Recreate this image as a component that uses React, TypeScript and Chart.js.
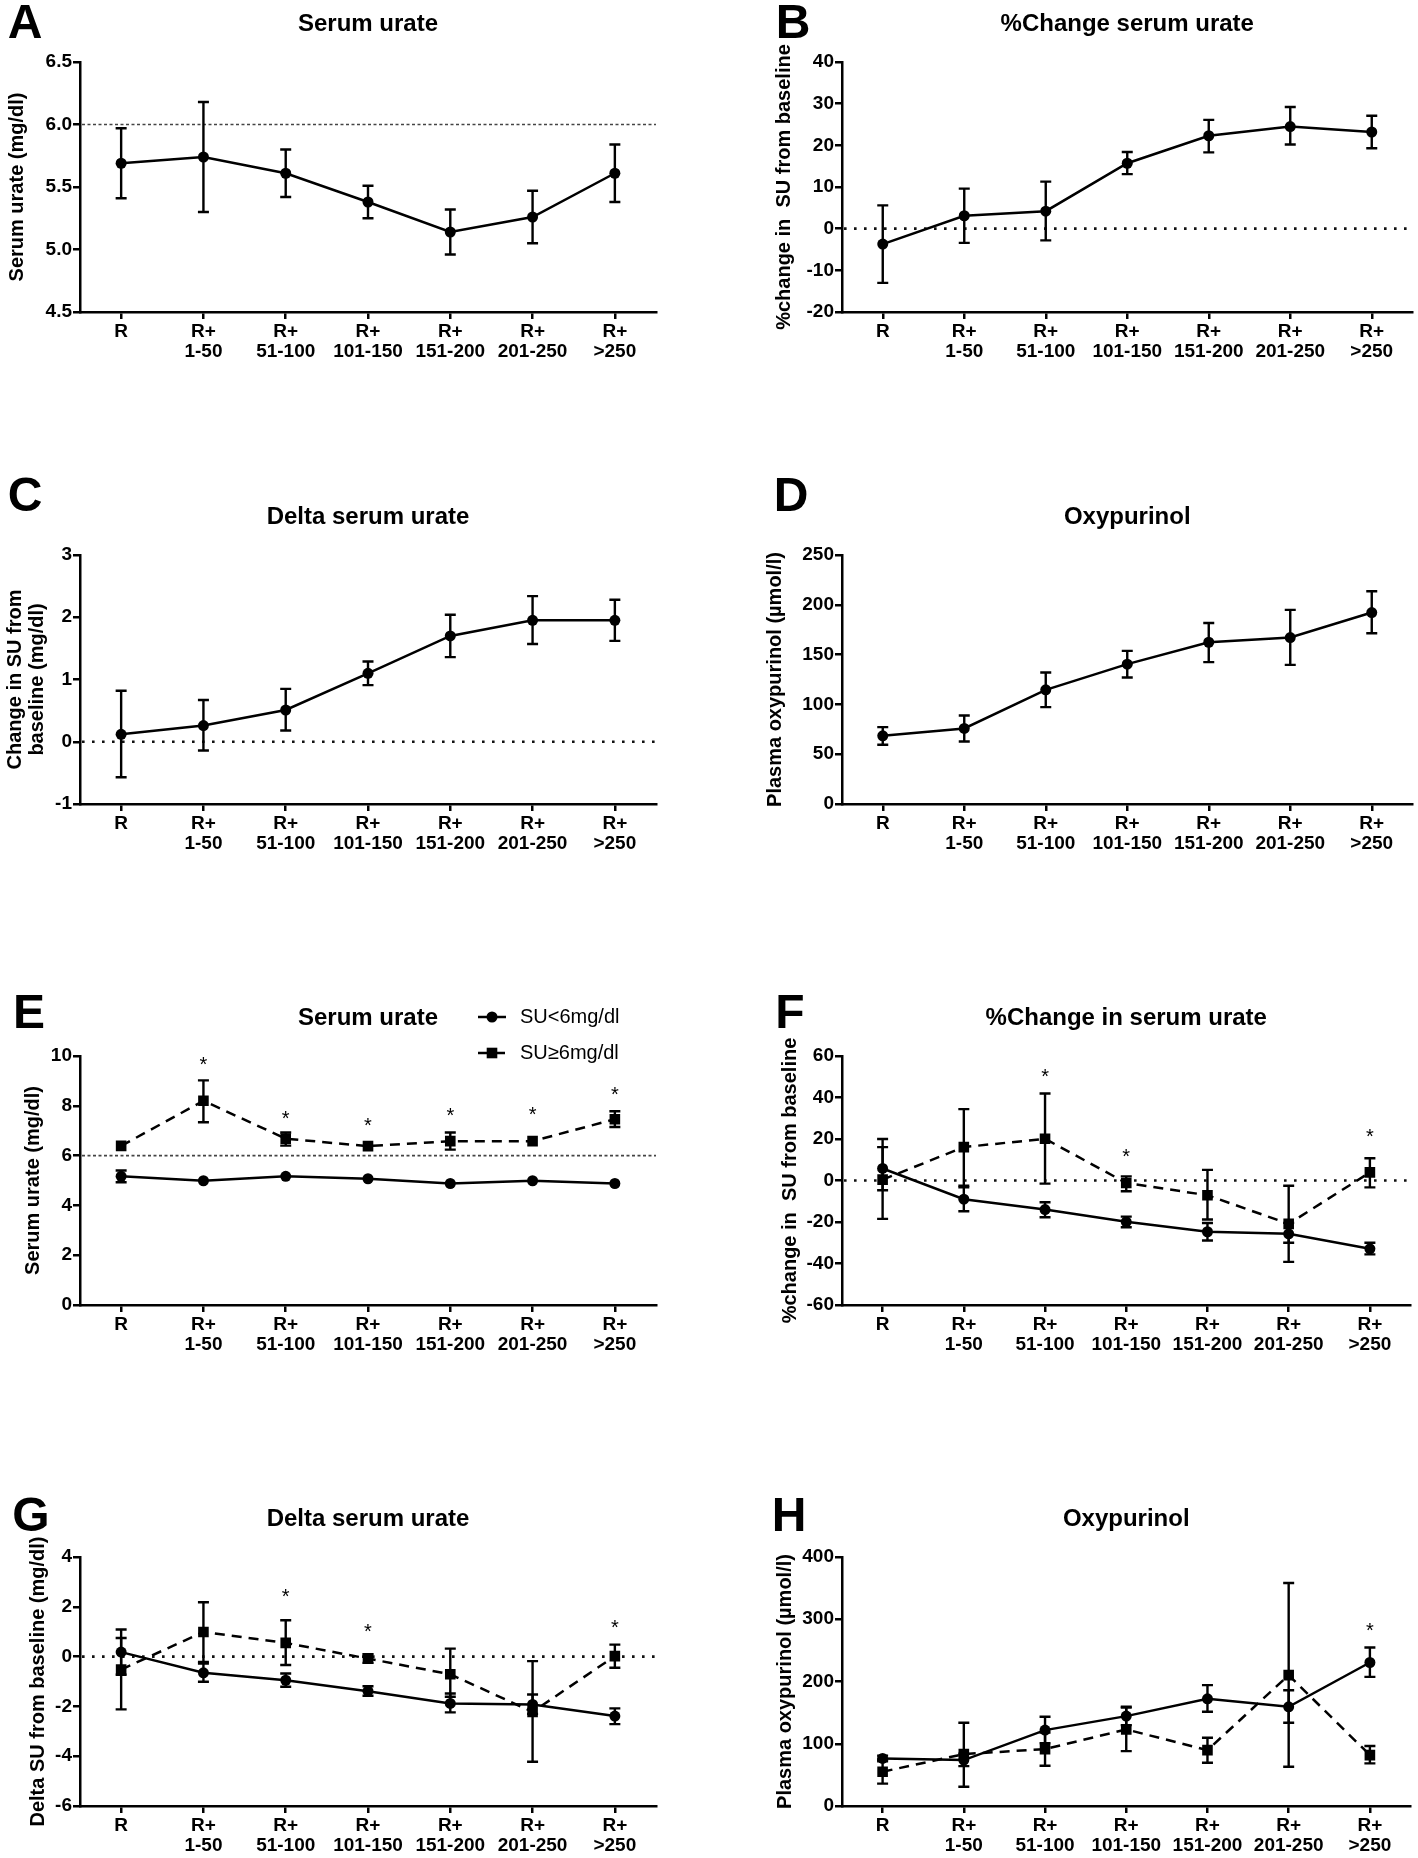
import React, { useEffect, useRef } from 'react';
import { Chart, registerables } from 'chart.js';

Chart.register(...registerables);

const FAM = '"Liberation Sans", Arial, Helvetica, sans-serif';

// ---------- data ----------
const categories: (string | string[])[] = [
  'R',
  ['R+', '1-50'],
  ['R+', '51-100'],
  ['R+', '101-150'],
  ['R+', '151-200'],
  ['R+', '201-250'],
  ['R+', '>250'],
];

const seriesLabels = ['SU<6mg/dl', 'SU\u22656mg/dl'];

// A: serum urate (all)
const aMean = [5.69, 5.74, 5.61, 5.38, 5.14, 5.26, 5.61];
const aLo = [5.41, 5.30, 5.42, 5.25, 4.96, 5.05, 5.38];
const aHi = [5.97, 6.18, 5.80, 5.51, 5.32, 5.47, 5.84];

// B: % change serum urate
const bMean = [-3.7, 3.1, 4.2, 15.7, 22.3, 24.5, 23.2];
const bLo = [-13.0, -3.4, -2.8, 13.1, 18.3, 20.2, 19.3];
const bHi = [5.6, 9.6, 11.3, 18.4, 26.1, 29.2, 27.1];

// C: delta serum urate
const cMean = [0.12, 0.26, 0.51, 1.10, 1.70, 1.95, 1.95];
const cLo = [-0.57, -0.14, 0.18, 0.91, 1.36, 1.57, 1.62];
const cHi = [0.82, 0.67, 0.85, 1.29, 2.04, 2.34, 2.28];

// D: oxypurinol
const dMean = [68.5, 75.9, 114.6, 140.4, 162.4, 167.1, 192.2];
const dLo = [59.5, 62.8, 97.3, 127.0, 142.4, 139.7, 171.5];
const dHi = [77.2, 88.9, 132.0, 153.7, 181.8, 194.9, 213.6];

// E: serum urate by group
const eLowMean = [5.17, 4.99, 5.17, 5.07, 4.88, 4.99, 4.88];
const eLowLo = [4.93, 4.99, 5.17, 5.07, 4.88, 4.99, 4.88];
const eLowHi = [5.40, 4.99, 5.17, 5.07, 4.88, 4.99, 4.88];
const eHighMean = [6.39, 8.20, 6.68, 6.38, 6.58, 6.58, 7.46];
const eHighLo = [6.39, 7.34, 6.40, 6.38, 6.24, 6.58, 7.15];
const eHighHi = [6.39, 9.02, 6.93, 6.38, 6.93, 6.58, 7.78];
const eStars: (number | null)[] = [null, 9.83, 7.69, 7.39, 7.78, 7.82, 8.62];

// F: % change by group
const fLowMean = [5.8, -9.0, -14.0, -19.9, -24.7, -25.7, -32.9];
const fLowLo = [-4.7, -14.8, -17.7, -22.5, -28.9, -30.0, -35.6];
const fLowHi = [20.0, -3.3, -10.5, -17.4, -20.5, -20.4, -30.0];
const fHighMean = [0.4, 16.1, 20.1, -1.2, -7.1, -20.9, 3.9];
const fHighLo = [-18.5, -2.5, -1.5, -5.2, -18.8, -39.2, -3.3];
const fHighHi = [16.1, 34.4, 41.9, 2.0, 5.1, -2.5, 10.7];
const fStars: (number | null)[] = [null, null, 52.5, 13.5, null, null, 23.6];

// G: delta by group
const gLowMean = [0.18, -0.65, -0.95, -1.39, -1.88, -1.92, -2.39];
const gLowLo = [-0.73, -1.01, -1.21, -1.57, -2.24, -2.30, -2.71];
const gLowHi = [1.09, -0.21, -0.68, -1.19, -1.48, -1.52, -2.08];
const gHighMean = [-0.52, 0.99, 0.55, -0.08, -0.71, -2.22, 0.02];
const gHighLo = [-2.12, -0.28, -0.34, -0.25, -1.61, -4.22, -0.45];
const gHighHi = [0.75, 2.18, 1.46, 0.10, 0.32, -0.18, 0.48];
const gStars: (number | null)[] = [null, null, 2.58, 1.17, null, null, 1.35];

// H: oxypurinol by group
const hLowMean = [76.5, 73.8, 121.9, 144.4, 172.2, 159.4, 230.5];
const hLowLo = [72.0, 64.0, 101.0, 130.0, 151.3, 133.7, 207.5];
const hLowHi = [81.0, 84.0, 143.3, 159.4, 194.1, 186.0, 254.5];
const hHighMean = [55.0, 83.4, 91.4, 123.0, 89.8, 210.2, 81.8];
const hHighLo = [36.0, 31.0, 64.7, 88.2, 69.5, 63.1, 68.4];
const hHighHi = [74.0, 133.7, 118.0, 158.0, 109.6, 358.3, 96.3];
const hStars: (number | null)[] = [null, null, null, null, null, null, 288.8];

// ---------- layout (page coords) ----------
const ROW_TOP = [0, 470, 900, 1400];
const ROW_H = [470, 430, 500, 458];
const PLOT_TOP = [62, 555, 1056, 1557];
const PLOT_BOT = [312, 804, 1305, 1806];
const TITLE_Y = [22, 515, 1016, 1517];
const LETTER_Y = [21, 494, 1011, 1514];
const COL_LEFT = [0, 709];
const COL_W = 709;
const PLOT_LEFT = [80, 842];
const PLOT_RIGHT = [656, 1418];
const LETTER_X_LEFT = [25, 25, 29, 31];
const LETTER_X_RIGHT = [793, 791, 790, 789];
const XAXIS_H = 52;

type Series = {
  label: string;
  mean: number[];
  lo: number[];
  hi: number[];
  shape: 'circle' | 'rect';
  dashed: boolean;
};

type Panel = {
  letter: string;
  title: string;
  yTitle: string | string[];
  yTitleX: number; // centre of first line, page coords
  min: number;
  max: number;
  step: number;
  dec: number;
  ref: number | null;
  refStyle: 'dash' | 'dot';
  series: Series[];
  stars?: (number | null)[];
  legend?: boolean;
  row: number;
  col: number;
};

const low = (mean: number[], lo: number[], hi: number[]): Series => ({
  label: seriesLabels[0], mean, lo, hi, shape: 'circle', dashed: false,
});
const high = (mean: number[], lo: number[], hi: number[]): Series => ({
  label: seriesLabels[1], mean, lo, hi, shape: 'rect', dashed: true,
});
const single = (mean: number[], lo: number[], hi: number[]): Series => ({
  label: 'All', mean, lo, hi, shape: 'circle', dashed: false,
});

const PANELS: Panel[] = [
  { letter: 'A', title: 'Serum urate', yTitle: 'Serum urate (mg/dl)', yTitleX: 17, min: 4.5, max: 6.5, step: 0.5, dec: 1, ref: 6, refStyle: 'dash', series: [single(aMean, aLo, aHi)], row: 0, col: 0 },
  { letter: 'B', title: '%Change serum urate', yTitle: '%change in  SU from baseline', yTitleX: 784, min: -20, max: 40, step: 10, dec: 0, ref: 0, refStyle: 'dot', series: [single(bMean, bLo, bHi)], row: 0, col: 1 },
  { letter: 'C', title: 'Delta serum urate', yTitle: ['Change in SU from', 'baseline (mg/dl)'], yTitleX: 15, min: -1, max: 3, step: 1, dec: 0, ref: 0, refStyle: 'dot', series: [single(cMean, cLo, cHi)], row: 1, col: 0 },
  { letter: 'D', title: 'Oxypurinol', yTitle: 'Plasma oxypurinol (\u00b5mol/l)', yTitleX: 775, min: 0, max: 250, step: 50, dec: 0, ref: null, refStyle: 'dot', series: [single(dMean, dLo, dHi)], row: 1, col: 1 },
  { letter: 'E', title: 'Serum urate', yTitle: 'Serum urate (mg/dl)', yTitleX: 33, min: 0, max: 10, step: 2, dec: 0, ref: 6, refStyle: 'dash', series: [low(eLowMean, eLowLo, eLowHi), high(eHighMean, eHighLo, eHighHi)], stars: eStars, legend: true, row: 2, col: 0 },
  { letter: 'F', title: '%Change in serum urate', yTitle: '%change in  SU from baseline', yTitleX: 790, min: -60, max: 60, step: 20, dec: 0, ref: 0, refStyle: 'dot', series: [low(fLowMean, fLowLo, fLowHi), high(fHighMean, fHighLo, fHighHi)], stars: fStars, row: 2, col: 1 },
  { letter: 'G', title: 'Delta serum urate', yTitle: 'Delta SU from baseline (mg/dl)', yTitleX: 38, min: -6, max: 4, step: 2, dec: 0, ref: 0, refStyle: 'dot', series: [low(gLowMean, gLowLo, gLowHi), high(gHighMean, gHighLo, gHighHi)], stars: gStars, row: 3, col: 0 },
  { letter: 'H', title: 'Oxypurinol', yTitle: 'Plasma oxypurinol (\u00b5mol/l)', yTitleX: 785, min: 0, max: 400, step: 100, dec: 0, ref: null, refStyle: 'dot', series: [low(hLowMean, hLowLo, hLowHi), high(hHighMean, hHighLo, hHighHi)], stars: hStars, row: 3, col: 1 },
];

function drawMarker(ctx: CanvasRenderingContext2D, shape: string, x: number, y: number, r: number) {
  ctx.beginPath();
  if (shape === 'circle') {
    ctx.arc(x, y, r, 0, Math.PI * 2);
  } else {
    const s = Math.SQRT1_2 * r;
    ctx.rect(x - s, y - s, 2 * s, 2 * s);
  }
  ctx.fill();
}

function makeDeco(p: Panel) {
  const rowTop = ROW_TOP[p.row];
  const colLeft = COL_LEFT[p.col];
  const letterX = p.col === 0 ? LETTER_X_LEFT[p.row] : LETTER_X_RIGHT[p.row];
  return {
    id: 'deco' + p.letter,
    beforeDatasetsDraw(chart: any) {
      const { ctx, chartArea: ca, scales } = chart;
      const ys = scales.y;
      ctx.save();
      if (p.ref !== null) {
        const py = ys.getPixelForValue(p.ref);
        ctx.beginPath();
        if (p.refStyle === 'dash') {
          ctx.setLineDash([3, 2.5]);
          ctx.lineWidth = 1.6;
          ctx.strokeStyle = '#444';
        } else {
          ctx.setLineDash([2.6, 7.4]);
          ctx.lineWidth = 2.6;
          ctx.strokeStyle = '#111';
        }
        ctx.moveTo(ca.left + 2, py);
        ctx.lineTo(ca.right, py);
        ctx.stroke();
      }
      ctx.setLineDash([]);
      ctx.strokeStyle = '#000';
      ctx.lineWidth = 2.4;
      chart.data.datasets.forEach((ds: any, i: number) => {
        const meta = chart.getDatasetMeta(i);
        meta.data.forEach((el: any, j: number) => {
          const lo = ds.errLo[j];
          const hi = ds.errHi[j];
          if (lo == null || hi == null || hi - lo <= 0) return;
          const x = el.x;
          const y1 = ys.getPixelForValue(hi);
          const y2 = ys.getPixelForValue(lo);
          ctx.beginPath();
          ctx.moveTo(x, y1);
          ctx.lineTo(x, y2);
          ctx.moveTo(x - 5.5, y1);
          ctx.lineTo(x + 5.5, y1);
          ctx.moveTo(x - 5.5, y2);
          ctx.lineTo(x + 5.5, y2);
          ctx.stroke();
        });
      });
      ctx.restore();
    },
    afterDraw(chart: any) {
      const { ctx, chartArea: ca, scales } = chart;
      const ys = scales.y;
      ctx.save();
      ctx.fillStyle = '#000';
      // panel letter
      ctx.font = `bold 48px ${FAM}`;
      ctx.textAlign = 'center';
      ctx.textBaseline = 'alphabetic';
      ctx.fillText(p.letter, letterX - colLeft, LETTER_Y[p.row] - rowTop + 17);
      // title
      ctx.font = `bold 24px ${FAM}`;
      ctx.fillText(p.title, (ca.left + ca.right) / 2, TITLE_Y[p.row] - rowTop + 8.5);
      // stars
      if (p.stars) {
        const meta = chart.getDatasetMeta(0);
        ctx.font = `20px ${FAM}`;
        p.stars.forEach((v, j) => {
          if (v == null) return;
          const x = meta.data[j].x;
          const y = ys.getPixelForValue(v);
          ctx.fillText('*', x, y + 11);
        });
      }
      // legend
      if (p.legend) {
        ctx.textAlign = 'left';
        ctx.textBaseline = 'middle';
        ctx.font = `20px ${FAM}`;
        const rows = [1017, 1053];
        chart.data.datasets.forEach((ds: any, i: number) => {
          const y = rows[i] - rowTop;
          ctx.save();
          ctx.strokeStyle = '#000';
          ctx.lineWidth = 2.5;
          ctx.setLineDash(ds.borderDash || []);
          ctx.beginPath();
          ctx.moveTo(478, y);
          ctx.lineTo(506, y);
          ctx.stroke();
          ctx.restore();
          drawMarker(ctx, ds.pointStyle, 492, y, ds.pointRadius);
          ctx.fillText(ds.label, 520, y);
        });
      }
      ctx.restore();
    },
  };
}

function PanelChart({ p }: { p: Panel }) {
  const ref = useRef<HTMLCanvasElement | null>(null);
  useEffect(() => {
    if (!ref.current) return;
    const rowTop = ROW_TOP[p.row];
    const h = ROW_H[p.row];
    const colLeft = COL_LEFT[p.col];
    const yWidth = PLOT_LEFT[p.col] - colLeft;
    const padTop = PLOT_TOP[p.row] - rowTop;
    const padBottom = Math.max(0, h - (PLOT_BOT[p.row] - rowTop) - XAXIS_H);
    const padRight = colLeft + COL_W - PLOT_RIGHT[p.col];
    const yTitleLH = 22;
    const yTitlePad = p.yTitleX - colLeft - yTitleLH / 2;
    const tickFont = { size: 19, weight: 'bold' as const, family: FAM, lineHeight: 1.05 };

    const datasets = p.series.map((s) => ({
      label: s.label,
      data: s.mean,
      errLo: s.lo,
      errHi: s.hi,
      borderColor: '#000',
      backgroundColor: '#000',
      borderWidth: 2.5,
      borderDash: s.dashed ? [10, 7] : [],
      pointStyle: s.shape,
      pointRadius: s.shape === 'circle' ? 5.5 : 7.5,
      pointBorderWidth: 0,
      pointBackgroundColor: '#000',
      pointBorderColor: '#000',
      tension: 0,
      fill: false,
    }));

    const chart = new Chart(ref.current, {
      type: 'line',
      data: { labels: categories as any, datasets: datasets as any },
      options: {
        responsive: false,
        animation: false,
        devicePixelRatio: 1,
        layout: { padding: { left: 0, right: padRight, top: padTop, bottom: padBottom } },
        plugins: {
          legend: { display: false },
          tooltip: { enabled: false },
          title: { display: false },
        },
        scales: {
          x: {
            type: 'category',
            offset: true,
            grid: { offset: false, drawOnChartArea: false, drawTicks: true, tickLength: 7, color: '#000', lineWidth: 2.5 },
            border: { display: true, color: '#000', width: 2.5 },
            ticks: { color: '#000', font: tickFont, padding: 3, maxRotation: 0, autoSkip: false },
            afterFit: (s: any) => { s.height = XAXIS_H; },
          },
          y: {
            type: 'linear',
            min: p.min,
            max: p.max,
            ticks: {
              stepSize: p.step,
              color: '#000',
              font: tickFont,
              padding: 1,
              callback: (v: any) => Number(v).toFixed(p.dec),
            },
            grid: { drawOnChartArea: false, drawTicks: true, tickLength: 7, color: '#000', lineWidth: 2.5 },
            border: { display: true, color: '#000', width: 2.5 },
            title: {
              display: true,
              text: p.yTitle as any,
              color: '#000',
              font: { size: 20, weight: 'bold', family: FAM, lineHeight: 1.1 },
              padding: { top: yTitlePad, bottom: 0 },
            },
            afterFit: (s: any) => { s.width = yWidth; },
          },
        },
      } as any,
      plugins: [makeDeco(p)],
    });
    return () => chart.destroy();
  }, [p]);

  return (
    <canvas
      ref={ref}
      width={COL_W}
      height={ROW_H[p.row]}
      style={{ position: 'absolute', left: COL_LEFT[p.col], top: ROW_TOP[p.row], width: COL_W, height: ROW_H[p.row] }}
    />
  );
}

export default function App() {
  return (
    <div style={{ position: 'absolute', left: 0, top: 0, width: 1418, height: 1858, background: '#fff', overflow: 'hidden' }}>
      {PANELS.map((p) => (
        <PanelChart key={p.letter} p={p} />
      ))}
    </div>
  );
}
